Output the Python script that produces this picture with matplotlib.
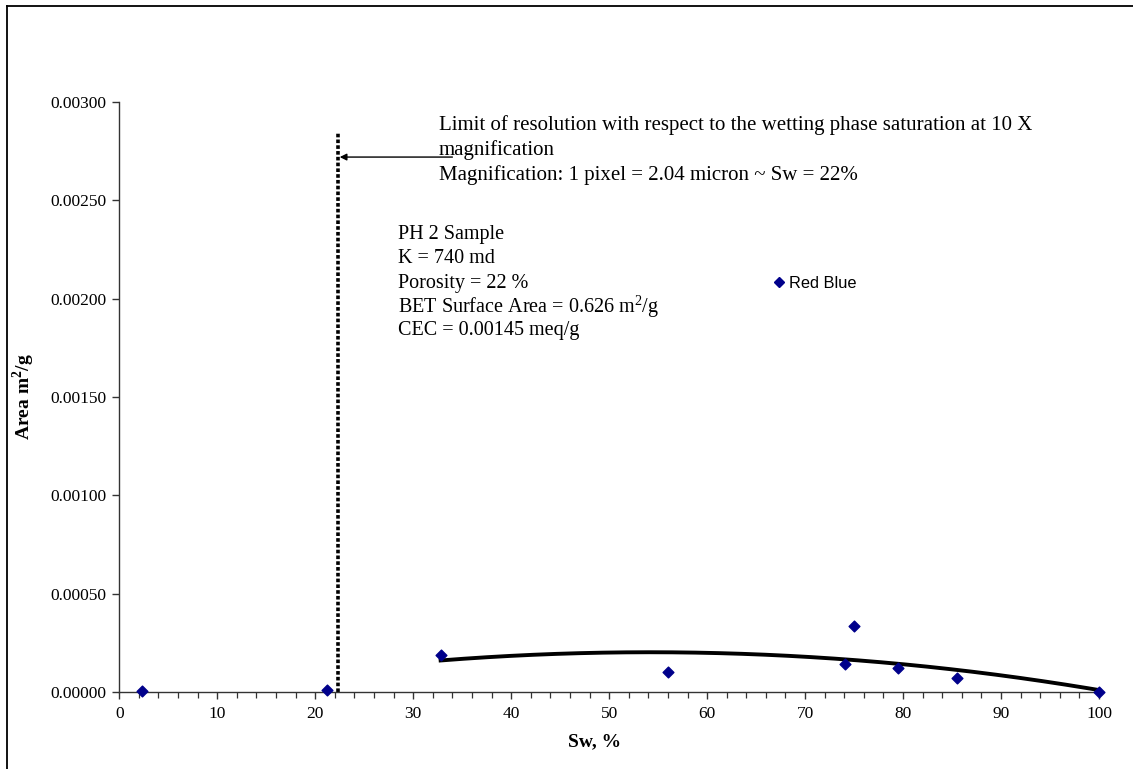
import numpy as np
import matplotlib
matplotlib.use("Agg")
import matplotlib.pyplot as plt
from matplotlib.lines import Line2D
from matplotlib.ticker import MultipleLocator, FormatStrFormatter

# Water saturation (%) and image-derived area (m2/g) for the PH 2 sample
sw = [2.3, 21.2, 32.8, 56.0, 74.1, 75.0, 79.5, 85.5, 100.0]
area = [0.000005, 0.000012, 0.000187, 0.000102, 0.000142, 0.000334, 0.000122, 0.000069, 0.0]

# Second-order trendline over the points above the resolution limit
trend_start = 32.8
sw_limit = 22.3
dotted_top = 0.00284
arrow_y = 0.00272

sample_lines = [
    "PH 2 Sample",
    "K = 740 md",
    "Porosity = 22 %",
    r"BET Surface Area = 0.626 m$^2$/g",
    "CEC = 0.00145 meq/g",
]
limit_lines = [
    "Limit of resolution with respect to the wetting phase saturation at 10 X",
    "magnification",
    "Magnification: 1 pixel = 2.04 micron ~ Sw = 22%",
]

plt.rcParams["font.family"] = ["Liberation Serif", "DejaVu Serif"]
plt.rcParams["mathtext.fontset"] = "custom"
plt.rcParams["mathtext.rm"] = "Liberation Serif"
plt.rcParams["mathtext.bf"] = "Liberation Serif:bold"

W, H = 1133, 769
fig = plt.figure(figsize=(W / 100, H / 100), dpi=100)
ax = fig.add_axes([119.3 / W, 1 - 692 / H, (1099 - 119.3) / W, (692 - 102) / H])
ax_w, ax_h = 1099 - 119.3, 692 - 102

navy = "#00008B"
ax.scatter(sw, area, marker="D", s=30, color=navy, zorder=4, clip_on=False)

# Trendline
x_arr = np.array(sw)
y_arr = np.array(area)
sel = x_arr >= trend_start
coef = np.polyfit(x_arr[sel], y_arr[sel], 2)
xs = np.linspace(trend_start, 100, 200)
ax.plot(xs, np.polyval(coef, xs), color="black", lw=2.8, zorder=3, clip_on=False)

# Resolution limit marker
ax.plot([sw_limit, sw_limit], [0, dotted_top], color="black", lw=2.6,
        linestyle=(0, (1, 0.6)), zorder=2)
ax.annotate("", xy=(sw_limit + 0.2, arrow_y), xytext=(34.0, arrow_y),
            arrowprops=dict(arrowstyle="-|>", color="black", lw=1.0,
                            mutation_scale=10, shrinkA=0, shrinkB=0))

ax.set_xlim(0, 100)
ax.set_ylim(0, 0.003)
ax.xaxis.set_major_locator(MultipleLocator(10))
ax.xaxis.set_minor_locator(MultipleLocator(2))
ax.yaxis.set_major_locator(MultipleLocator(0.0005))
ax.yaxis.set_major_formatter(FormatStrFormatter("%.5f"))
for side in ("top", "right"):
    ax.spines[side].set_visible(False)
for side in ("left", "bottom"):
    ax.spines[side].set_linewidth(1.0)
    ax.spines[side].set_color("#333333")
ax.tick_params(axis="both", which="major", direction="out", length=5, width=1.0,
               labelsize=12.5, color="#333333")
ax.tick_params(axis="x", which="minor", direction="out", length=4, width=0.9,
               color="#333333")
ax.tick_params(axis="x", pad=5)
ax.tick_params(axis="y", pad=4)

ax.set_xlabel("Sw, %", fontsize=14, fontweight="bold")
ax.set_ylabel(r"Area m$^\mathbf{2}$/g", fontsize=14, fontweight="bold")
ax.xaxis.set_label_coords(0.485, -(733 - 692) / ax_h)
ax.yaxis.set_label_coords(-(119.3 - 37) / ax_w, 0.5)

# Annotation texts
for i, line in enumerate(limit_lines):
    fig.text(439 / W, 1 - (125 + 25 * i) / H, line, fontsize=15, va="center", ha="left")
for i, line in enumerate(sample_lines):
    fig.text(398 / W, 1 - (235 + 24 * i) / H, line, fontsize=14.5, va="center", ha="left")

# Legend entry
leg = ax.legend(handles=[Line2D([], [], marker="D", linestyle="none", color=navy,
                                markersize=5)],
                labels=["Red Blue"], loc="center left",
                bbox_to_anchor=(763 / W, 1 - 283 / H), bbox_transform=fig.transFigure,
                frameon=False, handletextpad=0.1, borderpad=0, handlelength=1.0,
                prop={"family": "Liberation Sans", "size": 11.8})

# Outer frame: left and top edges
fig.add_artist(Line2D([7 / W, 7 / W], [0, 1 - 6 / H], transform=fig.transFigure,
                      color="black", lw=1.3))
fig.add_artist(Line2D([7 / W, 1], [1 - 6 / H, 1 - 6 / H], transform=fig.transFigure,
                      color="black", lw=1.3))

fig.savefig("out.png", dpi=100)
